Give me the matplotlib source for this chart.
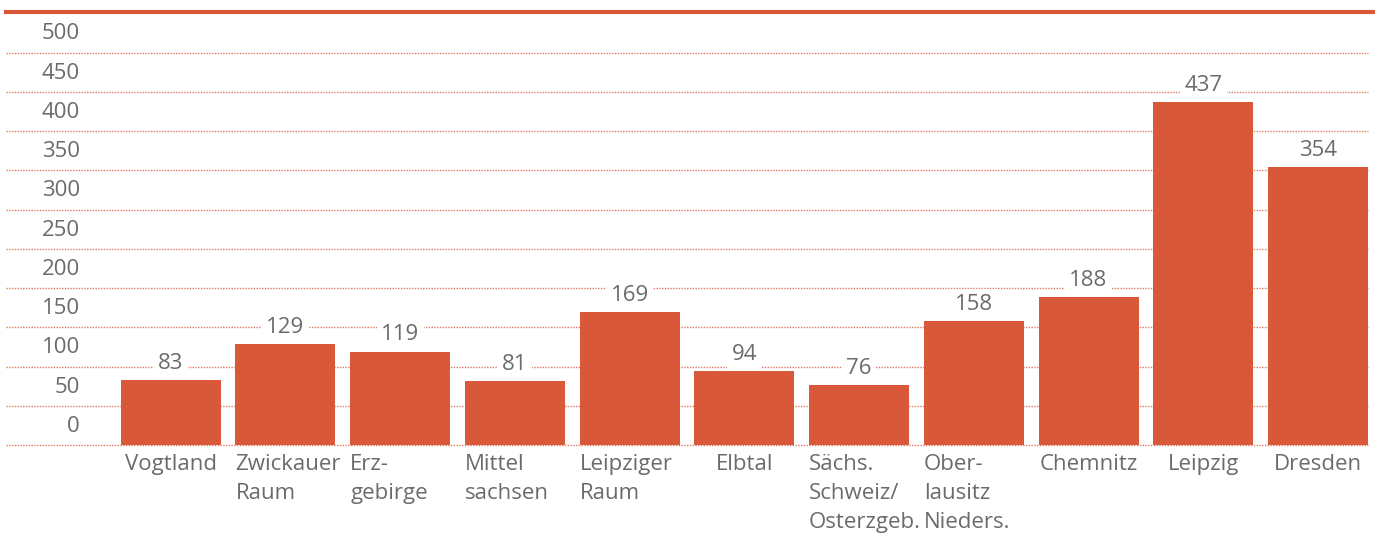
import matplotlib.pyplot as plt
from matplotlib.lines import Line2D

regions = ["Vogtland", "Zwickauer\nRaum", "Erz-\ngebirge", "Mittel\nsachsen",
           "Leipziger\nRaum", "Elbtal", "Sächs.\nSchweiz/\nOsterzgeb.",
           "Ober-\nlausitz\nNieders.", "Chemnitz", "Leipzig", "Dresden"]
counts = [83, 129, 119, 81, 169, 94, 76, 158, 188, 437, 354]
y_ticks = [0, 50, 100, 150, 200, 250, 300, 350, 400, 450, 500]

bar_color = "#D9583A"
grid_color = "#E07A62"
text_color = "#6B6B6B"
plt.rcParams["font.family"] = ["Open Sans", "DejaVu Sans"]

fig = plt.figure(figsize=(13.75, 5.34), dpi=100)
ax = fig.add_axes([6 / 1375, 89 / 534, 1362 / 1375, 392.5 / 534])

width = 0.872
xs = list(range(len(regions)))
ax.bar(xs, counts, width=width, color=bar_color, zorder=3)

ax.set_xlim(-1.436, len(regions) - 1 + width / 2)
ax.set_ylim(0, 500)
ax.set_yticks(y_ticks)
ax.set_xticks([])
ax.tick_params(axis="y", length=0, labelleft=False)
ax.grid(axis="y", color=grid_color, linestyle=(0, (1, 1)), linewidth=1.0, zorder=1)
for s in ax.spines.values():
    s.set_visible(False)
for gl in ax.get_ygridlines():
    gl.set_clip_on(False)

# y labels sit above their gridline
for t in y_ticks:
    ax.annotate(str(t), xy=(0.0543, t), xycoords=("axes fraction", "data"),
                xytext=(0, 9.5), textcoords="offset points",
                ha="right", va="baseline", fontsize=16, color=text_color)

# value labels with white box over the grid
for x, v in zip(xs, counts):
    ax.annotate(str(v), xy=(x, v), xytext=(0, 8), textcoords="offset points",
                ha="center", va="baseline", fontsize=16, color=text_color, zorder=4,
                bbox=dict(boxstyle="square,pad=0.2", fc="white", ec="none"))

# category labels: one-liners centred, wrapped ones left aligned with the bar edge
for x, lab in zip(xs, regions):
    if "\n" in lab:
        pos, ha = x - width / 2, "left"
    else:
        pos, ha = x, "center"
    ax.annotate(lab, xy=(pos, 0), xytext=(0, -6.5), textcoords="offset points",
                ha=ha, va="top", multialignment="left", fontsize=16,
                color=text_color, linespacing=1.5, annotation_clip=False)

fig.add_artist(Line2D([6 / 1375, 1.0], [1 - 12 / 534] * 2, transform=fig.transFigure,
                      color=bar_color, linewidth=3))

fig.savefig("out.png", dpi=100)
